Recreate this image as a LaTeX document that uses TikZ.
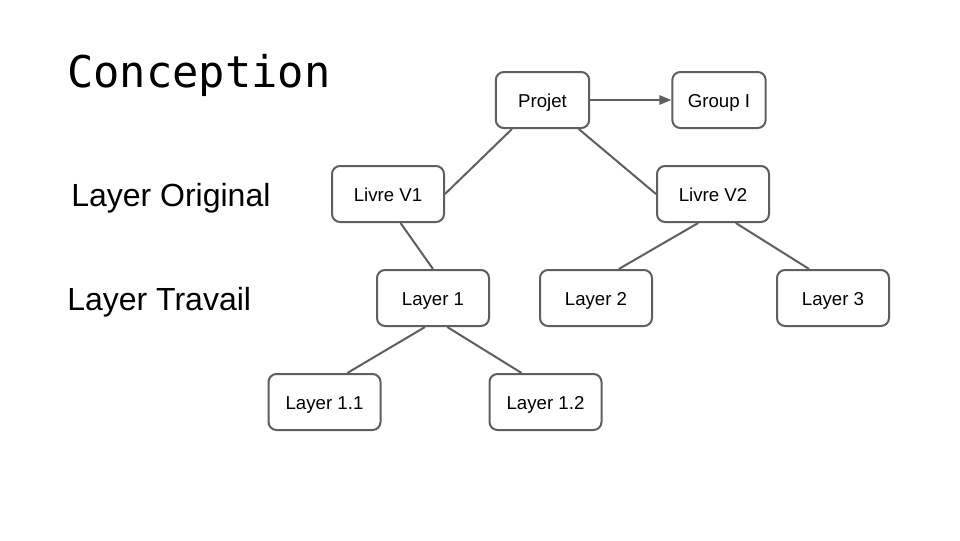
\documentclass[tikz,border=0pt]{standalone}
\usepackage{fontspec}
\setmainfont{Liberation Sans}
\newfontfamily\titlefont{DejaVu Sans Mono}
\usetikzlibrary{calc,arrows.meta}
\definecolor{boxline}{HTML}{5F5F5F}
\tikzset{
  box/.style={draw=boxline, line width=1.5pt, rounded corners=6pt, minimum width=84pt, minimum height=42pt, inner sep=0pt, text height=11.6pt, text depth=0pt, font=\fontsize{14}{16}\selectfont, text=black},
  conn/.style={draw=boxline, line width=1.5pt},
  lbl/.style={anchor=base west, inner sep=0pt, font=\fontsize{24}{28}\selectfont},
}
\begin{document}
\begin{tikzpicture}[x=0.75pt,y=-0.75pt]
\path[use as bounding box, fill=white] (0,0) rectangle (960,540);
\node[anchor=base west, inner sep=0pt, font=\titlefont\fontsize{32.8}{36}\selectfont] (title) at (67,87) {Conception};
\node[lbl] (lorig) at (71,206) {Layer Original};
\node[lbl] (ltrav) at (67,310) {Layer Travail};

\node[box, minimum width=70pt] (proj) at (542.5,100) {Projet};
\node[box, minimum width=70pt] (grp) at (719,100) {Group I};
\node[box] (lv1) at (388,194) {Livre V1};
\node[box] (lv2) at (713,194) {Livre V2};
\node[box] (l1) at (433,298) {Layer 1};
\node[box] (l2) at (596,298) {Layer 2};
\node[box] (l3) at (833,298) {Layer 3};
\node[box] (l11) at (324.5,402) {Layer 1.1};
\node[box] (l12) at (545.5,402) {Layer 1.2};

\draw[conn, -{Triangle[length=9pt,width=7pt]}] (proj.east) -- (grp.west);
\draw[conn] ($(proj.south west)!0.18!(proj.south east)$) -- (lv1.east);
\draw[conn] ($(proj.south west)!0.88!(proj.south east)$) -- (lv2.west);
\draw[conn] ($(lv1.south west)!0.61!(lv1.south east)$) -- (l1.north);
\draw[conn] ($(lv2.south west)!0.37!(lv2.south east)$) -- ($(l2.north west)!0.70!(l2.north east)$);
\draw[conn] ($(lv2.south west)!0.70!(lv2.south east)$) -- ($(l3.north west)!0.29!(l3.north east)$);
\draw[conn] ($(l1.south west)!0.43!(l1.south east)$) -- ($(l11.north west)!0.70!(l11.north east)$);
\draw[conn] ($(l1.south west)!0.625!(l1.south east)$) -- ($(l12.north west)!0.29!(l12.north east)$);
\end{tikzpicture}
\end{document}
